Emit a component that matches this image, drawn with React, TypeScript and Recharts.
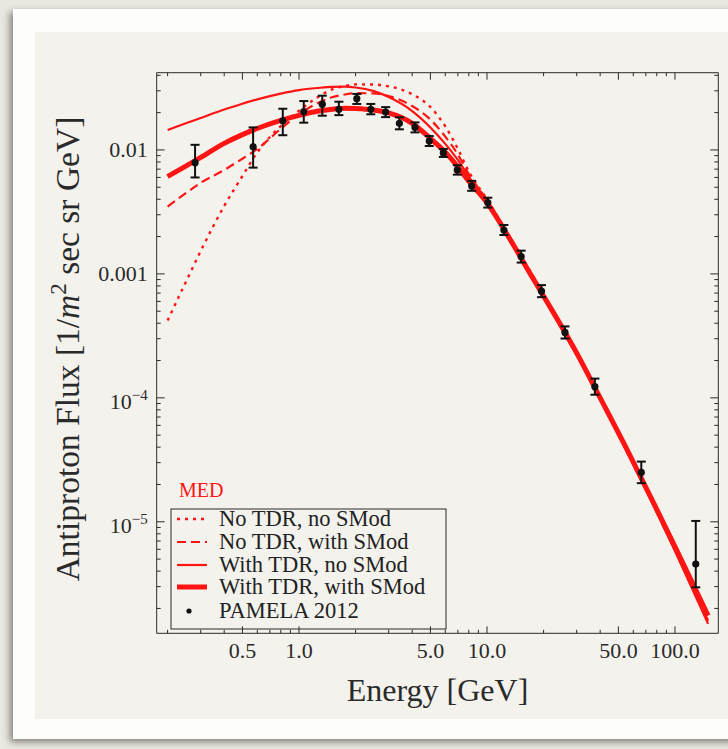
import React from "react";
import { ComposedChart, Line, Scatter, XAxis, YAxis, ErrorBar, Label } from "recharts";

const SERIF = "'Liberation Serif', 'Times New Roman', serif";
const RED = "#ff1414";
const INK = "#2a2a2a";

// model curves, all sampled on the same energy grid (GeV)
const curveEnergy = [0.2, 0.25, 0.3, 0.4, 0.5, 0.6, 0.8, 1.0, 1.25, 1.5, 1.75, 2.0, 2.5, 3.0, 4.0, 5.0, 6.0, 7.0, 8.0, 10, 13, 17, 22, 30, 40, 55, 75, 100, 150];
const noTdrNoSmod = [4.2e-4, 8.6e-4, 1.53e-3, 3.53e-3, 6.16e-3, 9.55e-3, 0.0156, 0.0207, 0.0265, 0.0308, 0.0328, 0.0338, 0.0337, 0.0326, 0.0282, 0.0222, 0.0155, 0.0102, 6.7e-3, 4.0e-3, 2.08e-3, 1.05e-3, 5.3e-4, 2.3e-4, 9.9e-5, 3.82e-5, 1.47e-5, 5.9e-6, 1.58e-6];
const noTdrWithSmod = [3.49e-3, 4.48e-3, 5.43e-3, 6.9e-3, 8.5e-3, 0.0102, 0.0148, 0.0194, 0.0238, 0.0266, 0.028, 0.0287, 0.0286, 0.0272, 0.0226, 0.0176, 0.0128, 9.2e-3, 6.4e-3, 3.95e-3, 2.05e-3, 1.04e-3, 5.25e-4, 2.29e-4, 9.9e-5, 3.82e-5, 1.47e-5, 5.9e-6, 1.6e-6];
const tdrNoSmod = [0.0145, 0.0164, 0.0181, 0.0212, 0.0236, 0.0256, 0.0285, 0.0304, 0.0316, 0.0323, 0.0324, 0.0319, 0.0298, 0.0267, 0.0206, 0.0152, 0.0112, 8.3e-3, 6.1e-3, 3.9e-3, 2.03e-3, 1.02e-3, 5.2e-4, 2.27e-4, 9.8e-5, 3.8e-5, 1.46e-5, 5.8e-6, 1.5e-6];
const tdrWithSmod = [6.1e-3, 7.4e-3, 8.7e-3, 0.0113, 0.0133, 0.0149, 0.0173, 0.019, 0.0205, 0.0213, 0.0217, 0.0216, 0.021, 0.0199, 0.0164, 0.0124, 9.6e-3, 7.3e-3, 5.6e-3, 3.75e-3, 2.0e-3, 1.0e-3, 5.2e-4, 2.3e-4, 1.0e-4, 3.95e-5, 1.54e-5, 6.3e-6, 1.75e-6];

// PAMELA 2012 antiproton flux
const pamelaEnergy = [0.28, 0.57, 0.82, 1.06, 1.33, 1.63, 2.03, 2.41, 2.89, 3.42, 4.14, 4.93, 5.86, 6.95, 8.29, 10.1, 12.3, 15.2, 19.5, 26.0, 37.5, 66.2, 129];
const pamelaFlux = [7.9e-3, 0.0106, 0.0172, 0.0204, 0.0234, 0.0213, 0.0259, 0.0213, 0.0202, 0.0164, 0.0152, 0.0118, 9.46e-3, 6.9e-3, 5.13e-3, 3.76e-3, 2.26e-3, 1.38e-3, 7.26e-4, 3.37e-4, 1.23e-4, 2.5e-5, 4.56e-6];
const pamelaErrLow = [1.9e-3, 3.4e-3, 4.05e-3, 3.8e-3, 4.5e-3, 2.2e-3, 2.4e-3, 1.9e-3, 1.79e-3, 1.73e-3, 1.34e-3, 1.04e-3, 6.8e-4, 5.8e-4, 4.5e-4, 3.3e-4, 2.0e-4, 1.46e-4, 7.7e-5, 3.6e-5, 1.7e-5, 4.5e-6, 1.6e-6];
const pamelaErrHigh = [3.1e-3, 4.6e-3, 4.3e-3, 4.4e-3, 4.0e-3, 3.2e-3, 2.4e-3, 2.2e-3, 1.96e-3, 1.94e-3, 1.47e-3, 1.14e-3, 7.3e-4, 6.3e-4, 5.0e-4, 3.6e-4, 2.2e-4, 1.6e-4, 8.6e-5, 4.0e-5, 2.0e-5, 5.6e-6, 5.6e-6];

// ticks
const xTicks = [0.2, 0.3, 0.4, 0.5, 0.6, 0.7, 0.8, 0.9, 1, 2, 3, 4, 5, 6, 7, 8, 9, 10, 20, 30, 40, 50, 60, 70, 80, 90, 100];
const xMajor = [0.5, 1, 5, 10, 50, 100];
const xMajorLabels = ["0.5", "1.0", "5.0", "10.0", "50.0", "100.0"];
const yTicks = [
  2e-6, 3e-6, 4e-6, 5e-6, 6e-6, 7e-6, 8e-6, 9e-6,
  1e-5, 2e-5, 3e-5, 4e-5, 5e-5, 6e-5, 7e-5, 8e-5, 9e-5,
  1e-4, 2e-4, 3e-4, 4e-4, 5e-4, 6e-4, 7e-4, 8e-4, 9e-4,
  1e-3, 2e-3, 3e-3, 4e-3, 5e-3, 6e-3, 7e-3, 8e-3, 9e-3,
  0.01, 0.02, 0.03, 0.04,
];
const yMajor = [1e-5, 1e-4, 1e-3, 0.01];
const yMajorLabels = ["10^−5", "10^−4", "0.001", "0.01"];

const legendLabels = ["No TDR, no SMod", "No TDR, with SMod", "With TDR, no SMod", "With TDR, with SMod", "PAMELA 2012"];

const curveRows = curveEnergy.map((e, i) => ({
  e,
  a: noTdrNoSmod[i],
  b: noTdrWithSmod[i],
  c: tdrNoSmod[i],
  d: tdrWithSmod[i],
}));

const pamelaRows = pamelaEnergy.map((e, i) => ({
  e,
  flux: pamelaFlux[i],
  err: [pamelaErrLow[i], pamelaErrHigh[i]],
}));

const lineStyles = [
  { key: "d", width: 5, dash: undefined },
  { key: "c", width: 2.2, dash: undefined },
  { key: "b", width: 2.2, dash: "9 5" },
  { key: "a", width: 2.4, dash: "3 5" },
];

const tickText = { fontFamily: SERIF, fontSize: 22, fill: INK };

function TickLabel({ x, y, label, anchor }: { x: number; y: number; label: string; anchor: "end" | "middle" }) {
  const [base, exp] = label.split("^");
  return (
    <text x={x} y={y} textAnchor={anchor} {...tickText}>
      {base}
      {exp && (
        <tspan dy={-9} fontSize={15}>
          {exp}
        </tspan>
      )}
    </text>
  );
}

function BottomTick(props: any) {
  const { x, y, payload } = props;
  const k = xMajor.indexOf(payload.value);
  return (
    <g>
      <line x1={x} y1={y} x2={x} y2={y - (k >= 0 ? 7 : 3.5)} stroke={INK} />
      {k >= 0 && <TickLabel x={x} y={y + 25} label={xMajorLabels[k]} anchor="middle" />}
    </g>
  );
}

function TopTick(props: any) {
  const { x, y, payload } = props;
  const major = xMajor.indexOf(payload.value) >= 0;
  return <line x1={x} y1={y} x2={x} y2={y + (major ? 7 : 3.5)} stroke={INK} />;
}

function LeftTick(props: any) {
  const { x, y, payload } = props;
  const k = yMajor.indexOf(payload.value);
  return (
    <g>
      <line x1={x} y1={y} x2={x + (k >= 0 ? 8 : 4)} y2={y} stroke={INK} />
      {k >= 0 && <TickLabel x={x - 9} y={y + (k < 2 ? 11 : 7.5)} label={yMajorLabels[k]} anchor="end" />}
    </g>
  );
}

function RightTick(props: any) {
  const { x, y, payload } = props;
  const major = yMajor.indexOf(payload.value) >= 0;
  return <line x1={x} y1={y} x2={x - (major ? 8 : 4)} y2={y} stroke={INK} />;
}

function YTitle(props: any) {
  const vb = props.viewBox;
  const cx = 79;
  const cy = vb.y + vb.height / 2 - 4;
  return (
    <text
      x={cx}
      y={cy}
      transform={`rotate(-90 ${cx} ${cy})`}
      textAnchor="middle"
      fontFamily={SERIF}
      fontSize={33.5}
      fill={INK}
    >
      Antiproton Flux [1/<tspan fontStyle="italic">m</tspan>
      <tspan dy={-13} fontSize={23}>2</tspan>
      <tspan dy={13}>{"  sec sr GeV]"}</tspan>
    </text>
  );
}

function XTitle(props: any) {
  const vb = props.viewBox;
  return (
    <text x={vb.x + vb.width / 2} y={701} textAnchor="middle" fontFamily={SERIF} fontSize={32} fill={INK}>
      Energy [GeV]
    </text>
  );
}

function Dot(props: any) {
  return <circle cx={props.cx} cy={props.cy} r={3.6} fill="#111" />;
}

function LegendBox() {
  const left = 171;
  const top = 509;
  const rowY = [519, 542, 565, 587, 611];
  return (
    <svg width={728} height={749} style={{ position: "absolute", left: 0, top: 0, pointerEvents: "none" }}>
      <text x={179} y={497} fontFamily={SERIF} fontSize={20} fill={RED}>
        MED
      </text>
      <rect x={left} y={top} width={275} height={120} fill="none" stroke={INK} strokeWidth={1} />
      {legendLabels.map((label, i) => (
        <g key={label}>
          {i < 4 ? (
            <line
              x1={177}
              x2={207}
              y1={rowY[i]}
              y2={rowY[i]}
              stroke={RED}
              strokeWidth={lineStyles[3 - i].width}
              strokeDasharray={lineStyles[3 - i].dash}
            />
          ) : (
            <circle cx={189} cy={rowY[i]} r={2.6} fill="#111" />
          )}
          <text x={219} y={rowY[i] + 7} fontFamily={SERIF} fontSize={22.5} fill="#222">
            {label}
          </text>
        </g>
      ))}
    </svg>
  );
}

export default function App() {
  const xDomain = [0.175, 170];
  const yDomain = [1.26e-6, 0.042];
  return (
    <div style={{ position: "fixed", left: 0, top: 0, width: 728, height: 749, background: "#ebe8e2", overflow: "hidden" }}>
      <div
        style={{
          position: "absolute",
          left: 13,
          top: 9,
          width: 760,
          height: 730,
          background: "#fdfdfc",
          boxShadow: "-3px 3px 7px rgba(0,0,0,0.45)",
        }}
      />
      <div style={{ position: "absolute", left: 35, top: 32, width: 740, height: 687, background: "#f4f2ed" }} />
      <div style={{ position: "absolute", left: 0, top: 0 }}>
        <ComposedChart
          width={728}
          height={749}
          data={curveRows}
          margin={{ top: 62.7, left: 96.7, right: 4.7, bottom: 85.7 }}
        >
          <XAxis
            dataKey="e"
            type="number"
            scale="log"
            domain={xDomain}
            allowDataOverflow
            ticks={xTicks}
            interval={0}
            tickSize={0}
            tickMargin={0}
            tickLine={false}
            tick={BottomTick}
            height={30}
            axisLine={{ stroke: INK }}
          >
            <Label content={XTitle} />
          </XAxis>
          <XAxis
            xAxisId="top"
            orientation="top"
            dataKey="e"
            type="number"
            scale="log"
            domain={xDomain}
            allowDataOverflow
            ticks={xTicks}
            interval={0}
            tickSize={0}
            tickMargin={0}
            tickLine={false}
            tick={TopTick}
            height={10}
            axisLine={{ stroke: INK }}
          />
          <YAxis
            type="number"
            scale="log"
            domain={yDomain}
            allowDataOverflow
            ticks={yTicks}
            interval={0}
            tickSize={0}
            tickMargin={0}
            tickLine={false}
            tick={LeftTick}
            width={60}
            axisLine={{ stroke: INK }}
          >
            <Label content={YTitle} />
          </YAxis>
          <YAxis
            yAxisId="right"
            orientation="right"
            type="number"
            scale="log"
            domain={yDomain}
            allowDataOverflow
            ticks={yTicks}
            interval={0}
            tickSize={0}
            tickMargin={0}
            tickLine={false}
            tick={RightTick}
            width={5}
            axisLine={{ stroke: INK }}
          />
          {lineStyles.map((s) => (
            <Line
              key={s.key}
              dataKey={s.key}
              type="monotone"
              stroke={RED}
              strokeWidth={s.width}
              strokeDasharray={s.dash}
              dot={false}
              activeDot={false}
              isAnimationActive={false}
            />
          ))}
          <Scatter data={pamelaRows} dataKey="flux" shape={Dot} isAnimationActive={false}>
            <ErrorBar dataKey="err" direction="y" width={4.5} stroke="#111" strokeWidth={2} />
          </Scatter>
        </ComposedChart>
      </div>
      <LegendBox />
    </div>
  );
}
